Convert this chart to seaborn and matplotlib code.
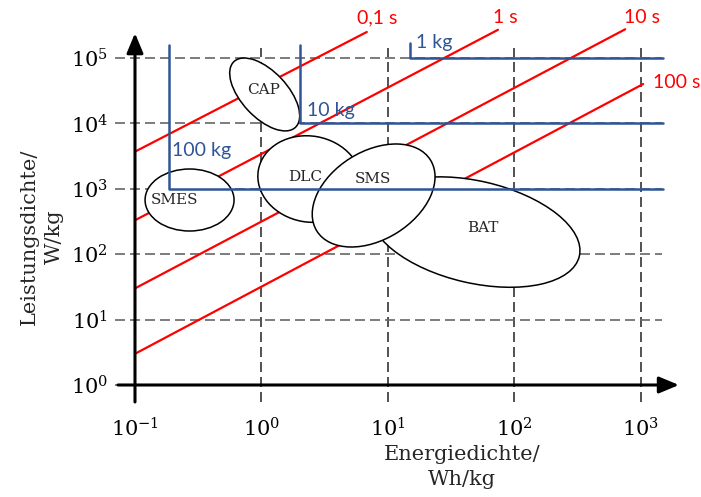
import matplotlib
matplotlib.use('Agg')
import numpy as np
import pandas as pd
import matplotlib.pyplot as plt
import seaborn as sns
from matplotlib.patches import Ellipse
from matplotlib.transforms import ScaledTranslation
from matplotlib.ticker import NullLocator

# ---------------- data ----------------
time_labels = ['0,1 s', '1 s', '10 s', '100 s']
time_E_start = [0.1, 0.1, 0.1, 0.1]
time_P_start = [3700, 330, 30, 3.0]
time_E_end = [6.8, 74, 750, 1040]
time_P_end = [2.5e5, 2.7e5, 2.75e5, 4.0e4]
time_label_E = [8.2, 84, 1020, 1930]
time_label_P = [4.1e5, 4.1e5, 4.1e5, 4.15e4]

mass_labels = ['100 kg', '10 kg', '1 kg']
mass_E_corner = [0.186, 2.0, 14.9]
mass_P_top = [1.6e5, 1.6e5, 1.7e5]
mass_P_level = [1e3, 1e4, 1e5]
mass_E_end = [1490, 1490, 1490]
mass_label_E = [0.339, 3.54, 23.1]
mass_label_P = [3790, 16000, 1.7e5]

tech_labels = ['SMES', 'CAP', 'DLC', 'BAT', 'SMS']
tech_E = [0.27, 1.06, 2.4, 48.8, 7.7]
tech_P = [674, 27700, 1410, 218, 790]
tech_label_E = [0.207, 1.03, 2.21, 56, 7.6]
tech_label_P = [674, 32400, 1515, 252, 1410]

x_ticks = [0.1, 1, 10, 100, 1000]
x_tick_labels = [r'$10^{-1}$', r'$10^{0}$', r'$10^{1}$', r'$10^{2}$', r'$10^{3}$']
y_ticks = [1, 10, 100, 1e3, 1e4, 1e5]
y_tick_labels = [r'$10^{0}$', r'$10^{1}$', r'$10^{2}$', r'$10^{3}$', r'$10^{4}$', r'$10^{5}$']
x_label = 'Energiedichte/\nWh/kg'
y_label = 'Leistungsdichte/\nW/kg'

# ---------------- styles / geometry ----------------
RED = '#FF0000'
BLUE = '#2F5597'
# ellipse semi-axes (px) and rotation (deg) for SMES, CAP, DLC, BAT, SMS
tech_geom = [(44.5, 31, 0), (45, 23, -47), (52, 43, -10), (107, 51, -13), (67, 44, 32)]

sns.set_style('white')
plt.rcParams['font.family'] = ['DejaVu Serif']
plt.rcParams['mathtext.fontset'] = 'dejavuserif'

W, H = 701, 497
fig = plt.figure(figsize=(W / 100, H / 100), dpi=100)
ax_l, ax_r, ax_t, ax_b = 115, 662, 48, 402
ax = fig.add_axes([ax_l / W, 1 - ax_b / H, (ax_r - ax_l) / W, (ax_b - ax_t) / H])
ax.set_xscale('log')
ax.set_yscale('log')
ax.set_xlim(10 ** -1.158, 10 ** 3.166)
ax.set_ylim(10 ** -0.26, 10 ** 5.153)

for s in ax.spines.values():
    s.set_visible(False)
ax.set_xticks(x_ticks)
ax.set_xticklabels(x_tick_labels)
ax.set_yticks(y_ticks)
ax.set_yticklabels(y_tick_labels)
ax.xaxis.set_minor_locator(NullLocator())
ax.yaxis.set_minor_locator(NullLocator())
ax.tick_params(axis='both', length=0, labelsize=15, colors='black')
ax.tick_params(axis='x', pad=11)
ax.tick_params(axis='y', pad=5)
ax.set_axisbelow(True)
ax.grid(axis='x', linestyle=(0, (6, 3)), linewidth=1.2, color='#333333')
ax.grid(axis='y', linestyle=(0, (6, 3)), linewidth=1.2, color='#666666')

# red time-constant lines
rows = []
for lab, e0, p0, e1, p1 in zip(time_labels, time_E_start, time_P_start, time_E_end, time_P_end):
    rows.append(dict(E=e0, P=p0, line=lab))
    rows.append(dict(E=e1, P=p1, line=lab))
df_t = pd.DataFrame(rows)
sns.lineplot(data=df_t, x='E', y='P', hue='line', palette=[RED] * len(time_labels),
             legend=False, estimator=None, sort=False, linewidth=1.6, ax=ax,
             zorder=2, clip_on=False)
for lab, e, p in zip(time_labels, time_label_E, time_label_P):
    ax.text(e, p, lab, color=RED, fontsize=14, family='Lato', ha='center', va='center')

# technology ellipses
for lab, e, p, (a, b, ang) in zip(tech_labels, tech_E, tech_P, tech_geom):
    tr = fig.dpi_scale_trans + ScaledTranslation(e, p, ax.transData)
    ell = Ellipse((0, 0), 2 * a / 100, 2 * b / 100, angle=ang, transform=tr,
                  facecolor='white', edgecolor='black', linewidth=1.1, zorder=3)
    ax.add_patch(ell)
for lab, e, p in zip(tech_labels, tech_label_E, tech_label_P):
    ax.text(e, p, lab, fontsize=11, ha='center', va='center', zorder=4)

# blue mass lines
rows = []
for lab, ec, pt, pl, ee in zip(mass_labels, mass_E_corner, mass_P_top, mass_P_level, mass_E_end):
    rows += [dict(E=ec, P=pt, line=lab), dict(E=ec, P=pl, line=lab), dict(E=ee, P=pl, line=lab)]
df_m = pd.DataFrame(rows)
sns.lineplot(data=df_m, x='E', y='P', hue='line', palette=[BLUE] * len(mass_labels),
             legend=False, estimator=None, sort=False, linewidth=1.8, ax=ax,
             zorder=5, clip_on=False)
for lab, e, p in zip(mass_labels, mass_label_E, mass_label_P):
    ax.text(e, p, lab, color=BLUE, fontsize=14, family='Lato', ha='center', va='center', zorder=5)

# axis arrows
arrow = dict(arrowstyle='-|>,head_length=0.6,head_width=0.25', color='black', lw=2.2,
             shrinkA=0, shrinkB=0, mutation_scale=20)
ax.annotate('', xy=(10 ** 3.30, 1), xytext=(10 ** -1.134, 1), arrowprops=arrow,
            annotation_clip=False, zorder=6)
ax.annotate('', xy=(0.1, 10 ** 5.38), xytext=(0.1, 10 ** -0.26), arrowprops=arrow,
            annotation_clip=False, zorder=6)
ax.set_xlabel('')
ax.set_ylabel('')

fig.text(462 / W, 1 - 467 / H, x_label, ha='center', va='center', ma='center',
         fontsize=15, linespacing=1.4)
fig.text(42 / W, 1 - 237 / H, y_label, ha='center', va='center', ma='center',
         fontsize=15, linespacing=1.4, rotation=90)

fig.savefig('out.png', dpi=100)
